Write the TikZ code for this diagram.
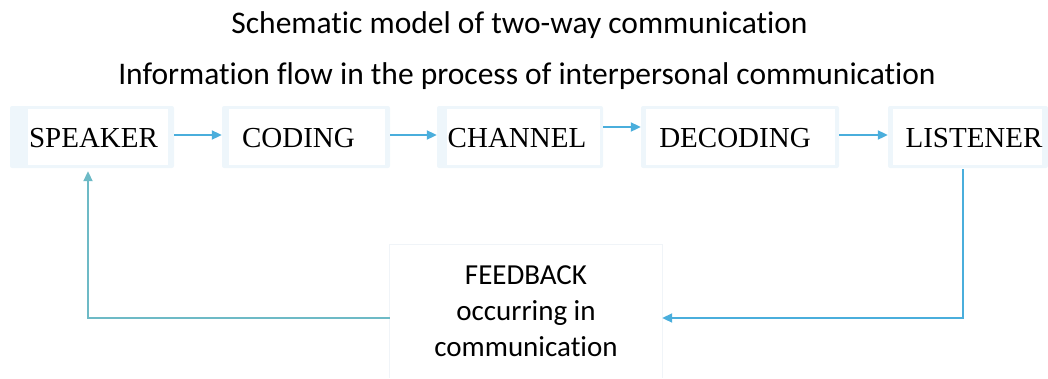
\documentclass[tikz,border=0pt]{standalone}
\usepackage{fontspec}
\setmainfont{Carlito}[Ligatures=NoCommon]
\newfontfamily\boxfont{Liberation Serif}
\usetikzlibrary{arrows.meta,calc}
\definecolor{flow}{HTML}{4AAEDC}
\definecolor{loopback}{HTML}{6DBAC6}
\definecolor{halo}{HTML}{EEF6FB}
\definecolor{fbedge}{HTML}{F0F4F8}
\begin{document}
\begin{tikzpicture}[x=1pt,y=-1pt,
  halobox/.style={fill=halo,inner sep=0pt,minimum height=62pt,rounded corners=2pt},
  innerbox/.style={fill=white,inner sep=0pt,minimum height=56pt},
  boxlabel/.style={anchor=base,inner sep=0pt,font=\boxfont\fontsize{29}{34}\selectfont},
  titletext/.style={anchor=base,inner sep=0pt,font=\fontsize{31.5}{36}\selectfont},
  fbbox/.style={fill=white,inner sep=0pt,
    minimum width=272pt,minimum height=133pt,align=center,
    font=\fontsize{29}{36}\selectfont},
  flowarrow/.style={draw=flow,line width=2pt,-{Triangle[length=10pt,width=9pt]}},
  backline/.style={draw=loopback,line width=2pt,-{Triangle[length=10pt,width=9pt]}},
]
\useasboundingbox (0,0) rectangle (1048,378);

% titles
\node[titletext] (title1) at (519.5,33) {Schematic model of two-way communication};
\node[titletext] (title2) at (527,84) {Information flow in the process of interpersonal communication};

% soft outer panels
\node[halobox,minimum width=164pt] (spkH) at (92,137) {};
\node[halobox,minimum width=168pt] (codH) at (306,137) {};
\node[halobox,minimum width=166pt] (chH)  at (520,137) {};
\node[halobox,minimum width=198pt] (decH) at (740,137) {};
\node[halobox,minimum width=160pt] (lisH) at (968,137) {};

% white inner panels
\node[innerbox,minimum width=140pt] (spk) at (98,137) {};
\node[innerbox,minimum width=156pt] (cod) at (307,137) {};
\node[innerbox,minimum width=153pt] (ch)  at (523.5,137) {};
\node[innerbox,minimum width=189pt] (dec) at (740.5,137) {};
\node[innerbox,minimum width=149pt] (lis) at (967.5,137) {};

% stage labels
\node[boxlabel] (spkT) at (93.5,147) {SPEAKER};
\node[boxlabel] (codT) at (298.5,147) {CODING};
\node[boxlabel] (chT)  at (517,147) {CHANNEL};
\node[boxlabel] (decT) at (735,147) {DECODING};
\node[boxlabel] (lisT) at (974,147) {LISTENER};

% feedback box, open at the bottom edge
\node[fbbox] (fb) at (526,311.5) {FEEDBACK\\occurring in\\communication};
\draw[fbedge,line width=0.8pt] (fb.south west) -- (fb.north west) -- (fb.north east) -- (fb.south east);

% forward flow
\draw[flowarrow] ($(spkH.east)+(0,-2)$) -- ($(codH.west)+(0,-2)$);
\draw[flowarrow] ($(codH.east)+(0,-2)$) -- ($(chH.west)+(0,-2)$);
\draw[flowarrow] ($(chH.east)+(0,-10)$) -- ($(decH.west)+(0,-10)$);
\draw[flowarrow] ($(decH.east)+(0,-2)$) -- ($(lisH.west)+(0,-2)$);

% feedback loop
\draw[flowarrow] ($(lisH.south)+(-5,1)$) |- ($(fb.east)+(0,6.5)$);
\draw[backline] ($(fb.west)+(0,6.5)$) -| ($(spkH.south)+(-4,3)$);
\end{tikzpicture}
\end{document}
